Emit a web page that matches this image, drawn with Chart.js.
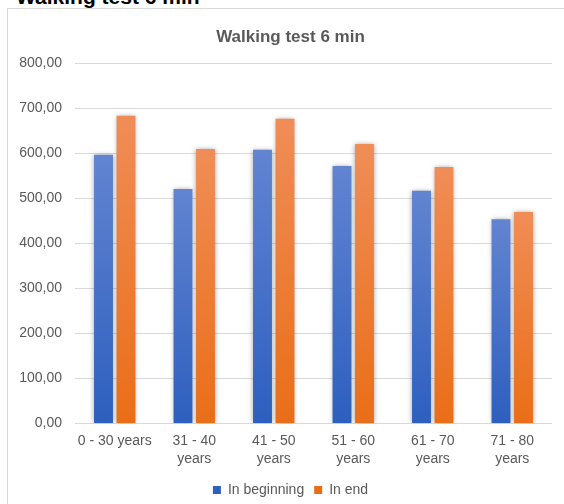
<!DOCTYPE html>
<html>
<head>
<meta charset="utf-8">
<script src="https://cdn.jsdelivr.net/npm/chart.js@4"></script>
<style>
  html, body { margin: 0; padding: 0; width: 564px; height: 504px; overflow: hidden; background: #fff; }
  #heading {
    position: absolute; left: 16px; top: -14px; margin: 0;
    font: bold 21px "Liberation Sans", Arial, sans-serif; line-height: 21px; color: #000;
  }
  #box {
    position: absolute; left: 7px; top: 8px; width: 566px; height: 510px;
    border: 1px solid #d9d9d9; background: #fff;
  }
  #wrap { position: absolute; left: 0; top: 0; width: 565px; height: 495px; }
</style>
</head>
<body>
<h3 id="heading">Walking test 6 min</h3>
<div id="box"><div id="wrap"><canvas id="myChart"></canvas></div></div>
<script>
// data
const ageGroups = [['0 - 30 years'], ['31 - 40', 'years'], ['41 - 50', 'years'], ['51 - 60', 'years'], ['61 - 70', 'years'], ['71 - 80', 'years']];
const inBeginning = [597, 521, 608, 572, 517, 454];
const inEnd = [684, 610, 677, 621, 570, 470];
const yTicks = [0, 100, 200, 300, 400, 500, 600, 700, 800];

const fontName = "'Liberation Sans', Arial, sans-serif";

// vertical gradient per bar, like the excel fill
function barFill(top, bottom, flat) {
  return (ctx) => {
    const chart = ctx.chart;
    if (ctx.type !== 'data' || !chart.chartArea) return flat;
    const y = chart.scales.y;
    const y0 = y.getPixelForValue(0);
    const y1 = y.getPixelForValue(ctx.raw);
    if (!isFinite(y0) || !isFinite(y1) || y0 === y1) return flat;
    const g = chart.ctx.createLinearGradient(0, y1, 0, y0);
    g.addColorStop(0, top);
    g.addColorStop(1, bottom);
    return g;
  };
}

// soft shadow round the bars
const barShadow = {
  id: 'barShadow',
  beforeDatasetsDraw(chart) {
    const c = chart.ctx;
    c.save();
    c.shadowColor = 'rgba(0,0,0,0.38)';
    c.shadowBlur = 5;
    c.shadowOffsetX = 0;
    c.shadowOffsetY = 0;
  },
  afterDatasetsDraw(chart) {
    chart.ctx.restore();
  }
};

const grafico = document.getElementById('myChart');
new Chart(grafico, {
  type: 'bar',
  data: {
    labels: ageGroups,
    datasets: [{
      label: 'In beginning',
      data: inBeginning,
      backgroundColor: barFill('#6284d1', '#2d5fbe', '#4472c4'),
    },
    {
      label: 'In end',
      data: inEnd,
      backgroundColor: barFill('#f08d57', '#ea6e17', '#ed7d31'),
    }]
  },
  plugins: [barShadow],
  options: {
    animation: false,
    maintainAspectRatio: false,
    responsive: true,
    categoryPercentage: 0.566,
    barPercentage: 0.84,
    layout: { padding: { left: 0, right: 0, top: 0, bottom: -3 } },
    plugins: {
      title: {
        display: true,
        text: 'Walking test 6 min',
        color: '#595959',
        font: { family: fontName, size: 17, weight: 'bold' },
        padding: { top: 18, bottom: 16 }
      },
      legend: {
        position: 'bottom',
        labels: {
          color: '#595959',
          font: { family: fontName, size: 14 },
          boxWidth: 8,
          boxHeight: 8,
          padding: 10
        }
      },
      tooltip: { enabled: false }
    },
    scales: {
      y: {
        min: 0,
        max: 800,
        afterBuildTicks: (axis) => { axis.ticks = yTicks.map(v => ({ value: v })); },
        afterFit: (axis) => { axis.width = 67; },
        border: { display: false },
        grid: { color: '#d9d9d9', lineWidth: 1, drawTicks: false },
        ticks: {
          color: '#595959',
          font: { family: fontName, size: 14 },
          padding: 13,
          callback: (v) => v.toFixed(2).replace('.', ',')
        }
      },
      // empty right margin so title and legend stay centred on the whole box
      yRight: {
        position: 'right',
        display: true,
        afterFit: (axis) => { axis.width = 21; },
        border: { display: false },
        grid: { display: false, drawTicks: false },
        ticks: { display: false }
      },
      x: {
        afterFit: (axis) => { axis.height = axis.height - 3; },
        border: { display: false },
        grid: { display: false, drawTicks: false },
        ticks: {
          color: '#595959',
          font: { family: fontName, size: 14, lineHeight: 1.3 },
          padding: 8,
          maxRotation: 0,
          autoSkip: false
        }
      }
    }
  }
});
</script>
</body>
</html>
